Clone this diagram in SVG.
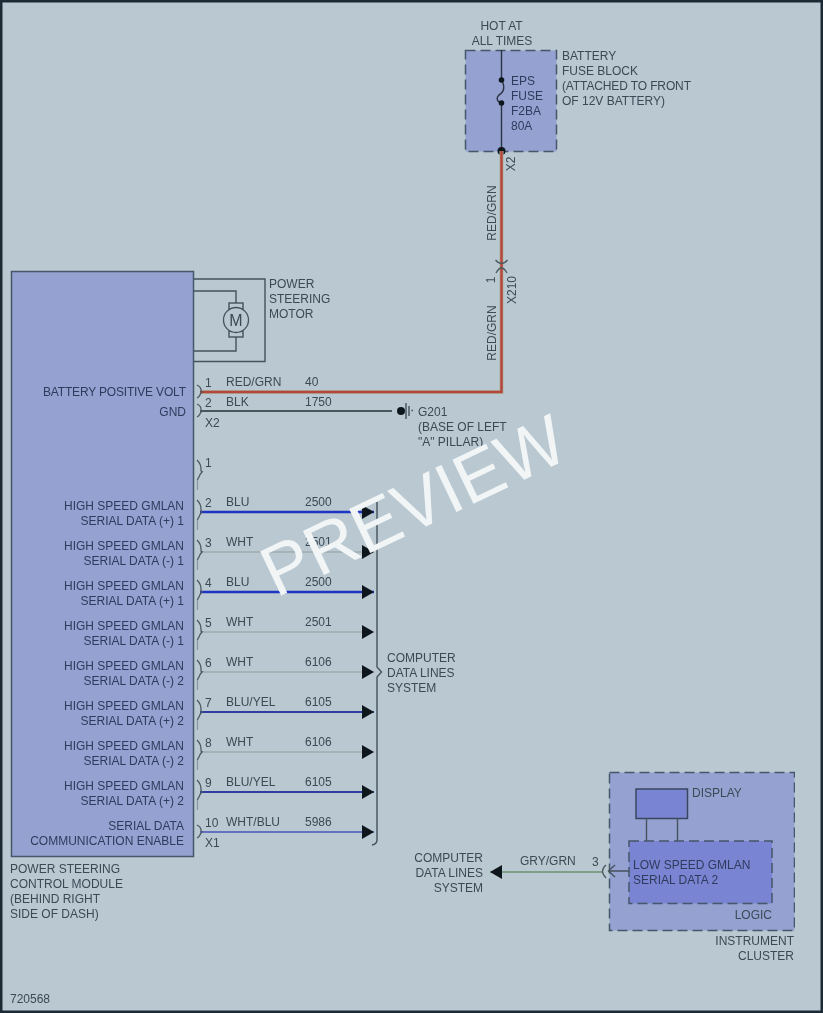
<svg xmlns="http://www.w3.org/2000/svg" width="823" height="1013" viewBox="0 0 823 1013">
<defs>
<style>
text{font-family:"Liberation Sans",Arial,sans-serif;font-size:12px;fill:#3d4954}
.m{fill:#2f3a5c}
.e{text-anchor:end}
.c{text-anchor:middle}
.box{fill:#95a2d1;stroke:#46566a;stroke-width:1.5}
.dash{stroke-dasharray:10 5}
.ln{fill:none;stroke:#46525c;stroke-width:1.4}
.pin{fill:none;stroke:#4d5963;stroke-width:1.3}
.tail{fill:none;stroke:#8b979e;stroke-width:1.3}
.w{fill:none}
</style>
<filter id="soft" x="0" y="0" width="100%" height="100%"><feGaussianBlur stdDeviation="0.45"/></filter>
<marker id="ah" markerWidth="12" markerHeight="14" refX="12" refY="7" orient="auto" markerUnits="userSpaceOnUse"><path d="M0 0L12 7L0 14Z" fill="#11181d"/></marker>
<path id="p2" class="pin" d="M-1 -7Q3 -5 3 -2Q3 0 4 0Q2 2 2 3Q1 5 -1 6"/>
<g id="p"><path class="pin" d="M-1 -12Q3 -8 3 -3Q3 0 4 0Q2 2 1 5Q0 6 -0.500 8"/><path class="tail" d="M-0.500 8V18"/></g>
</defs>
<rect x="1" y="1" width="821" height="1011" fill="#b9c8d1" stroke="#1c2a35" stroke-width="3"/>
<g filter="url(#soft)">

<g id="fuse-block">
<rect class="box dash" x="465.500" y="50.500" width="91" height="101"/>
<path class="ln" d="M501.500 50V80M501.500 103V151" style="stroke:#2b3440"/>
<path class="ln" d="M501.500 80Q505 86 503 91Q501 94 499 95Q496 98 498 101Q500 103 501.500 103" style="stroke:#2b3440"/>
<circle cx="501.500" cy="80" r="2.800" fill="#11181d"/><circle cx="501.500" cy="103" r="2.800" fill="#11181d"/><circle cx="501.500" cy="151" r="4" fill="#11181d"/>
<text x="511" y="85" class="m">EPS</text><text x="511" y="100" class="m">FUSE</text><text x="511" y="115" class="m">F2BA</text><text x="511" y="130" class="m">80A</text>
<text x="501.500" y="30" class="c">HOT AT</text><text x="502" y="45" class="c">ALL TIMES</text>
<text x="562" y="60">BATTERY</text><text x="562" y="75">FUSE BLOCK</text><text x="562" y="90" textLength="129">(ATTACHED TO FRONT</text><text x="562" y="105">OF 12V BATTERY)</text>
<text transform="translate(515,164) rotate(-90)" class="c">X2</text>
</g>

<g id="control-module">
<rect class="box" x="11.500" y="271.500" width="182" height="585"/>
<text x="43" y="396" class="m" textLength="143">BATTERY POSITIVE VOLT</text><text x="186" y="416" class="m e">GND</text>
<text x="184" y="510" class="m e">HIGH SPEED GMLAN</text><text x="184" y="525" class="m e">SERIAL DATA (+) 1</text>
<text x="184" y="550" class="m e">HIGH SPEED GMLAN</text><text x="184" y="565" class="m e">SERIAL DATA (-) 1</text>
<text x="184" y="590" class="m e">HIGH SPEED GMLAN</text><text x="184" y="605" class="m e">SERIAL DATA (+) 1</text>
<text x="184" y="630" class="m e">HIGH SPEED GMLAN</text><text x="184" y="645" class="m e">SERIAL DATA (-) 1</text>
<text x="184" y="670" class="m e">HIGH SPEED GMLAN</text><text x="184" y="685" class="m e">SERIAL DATA (-) 2</text>
<text x="184" y="710" class="m e">HIGH SPEED GMLAN</text><text x="184" y="725" class="m e">SERIAL DATA (+) 2</text>
<text x="184" y="750" class="m e">HIGH SPEED GMLAN</text><text x="184" y="765" class="m e">SERIAL DATA (-) 2</text>
<text x="184" y="790" class="m e">HIGH SPEED GMLAN</text><text x="184" y="805" class="m e">SERIAL DATA (+) 2</text>
<text x="184" y="830" class="m e">SERIAL DATA</text><text x="184" y="845" class="m e">COMMUNICATION ENABLE</text>
<text x="10" y="873">POWER STEERING</text><text x="10" y="888">CONTROL MODULE</text><text x="10" y="903">(BEHIND RIGHT</text><text x="10" y="918">SIDE OF DASH)</text>
</g>

<g id="motor">
<path class="ln" d="M194 279H265V361.500H194M194 291H236V303M236 337V351H194"/>
<rect class="ln" x="229" y="303" width="14" height="6"/><rect class="ln" x="229" y="331" width="14" height="6"/>
<circle cx="236" cy="320" r="12.500" fill="#b9c8d1" stroke="#46525c" stroke-width="1.300"/>
<text x="236" y="326" class="c" style="font-size:16px">M</text>
<text x="269" y="288">POWER</text><text x="269" y="303">STEERING</text><text x="269" y="318">MOTOR</text>
</g>

<g id="ground-g201">
<circle cx="401" cy="411" r="4" fill="#11181d"/>
<path class="ln" d="M406 403V419M409 406V416M411.500 410.500H413"/>
<text x="418" y="416">G201</text><text x="418" y="431">(BASE OF LEFT</text><text x="418" y="446">"A" PILLAR)</text>
</g>

<g id="data-lines-right">
<path class="ln" d="M377 502V667L381.500 672L377 677V840Q377 844 372 845"/>
<text x="387" y="662">COMPUTER</text><text x="387" y="677">DATA LINES</text><text x="387" y="692">SYSTEM</text>
</g>

<g id="instrument-cluster">
<rect x="609.500" y="772.500" width="185" height="158" fill="#95a2d1" stroke="#46566a" stroke-width="1.500" stroke-dasharray="10 5"/>
<rect x="636" y="789" width="51.500" height="29.500" fill="#7985d2" stroke="#39445e" stroke-width="1.500"/>
<path class="ln" d="M646.500 818V841M677.500 818V841"/>
<rect x="629" y="841" width="143" height="62.500" fill="#7985d2" stroke="#46566a" stroke-width="1.500" stroke-dasharray="10 5"/>
<path class="ln" d="M629 871H609M615 865L608.500 871L615 877"/>
<text x="692" y="797">DISPLAY</text>
<text x="633" y="869" class="m">LOW SPEED GMLAN</text><text x="633" y="884" class="m">SERIAL DATA 2</text>
<text x="772" y="919" class="e">LOGIC</text>
<text x="794" y="945" class="e">INSTRUMENT</text><text x="794" y="960" class="e">CLUSTER</text>
</g>

<g id="data-lines-left">
<text x="483" y="862" class="e">COMPUTER</text><text x="483" y="877" class="e">DATA LINES</text><text x="483" y="892" class="e">SYSTEM</text>
</g>

<g id="connectors">
<path class="w" d="M501.500 151V392H200" stroke="#a9b69f" stroke-width="4"/>
<path class="w" d="M501.500 151V392H200" stroke="#b8453a" stroke-width="2.500"/>
<path class="w" d="M200 411H392" stroke="#4b555c" stroke-width="2"/>
<path class="w" d="M200 512H374" stroke="#1f35c4" stroke-width="2.500" marker-end="url(#ah)"/>
<path class="w" d="M200 552H374" stroke="#a7b2b6" stroke-width="2" marker-end="url(#ah)"/>
<path class="w" d="M200 592H374" stroke="#1f35c4" stroke-width="2.500" marker-end="url(#ah)"/>
<path class="w" d="M200 632H374" stroke="#a7b2b6" stroke-width="2" marker-end="url(#ah)"/>
<path class="w" d="M200 672H374" stroke="#a7b2b6" stroke-width="2" marker-end="url(#ah)"/>
<path class="w" d="M200 712H374" stroke="#2e3e9f" stroke-width="2.200" marker-end="url(#ah)"/>
<path class="w" d="M200 752H374" stroke="#a7b2b6" stroke-width="2" marker-end="url(#ah)"/>
<path class="w" d="M200 792H374" stroke="#2e3e9f" stroke-width="2.200" marker-end="url(#ah)"/>
<path class="w" d="M200 832H374" stroke="#6470c4" stroke-width="2" marker-end="url(#ah)"/>
<path class="w" d="M602 872H490" stroke="#7fa088" stroke-width="2.200" marker-end="url(#ah)"/>
<path class="pin" d="M495.500 260Q501.500 267 507.500 260M496 273Q501.500 263 507 273"/>
<path class="pin" d="M606 865Q599 871 606 878"/>
<use href="#p2" x="198" y="392"/><use href="#p2" x="198" y="411"/>
<use href="#p" x="198" y="472"/><use href="#p" x="198" y="512"/><use href="#p" x="198" y="552"/><use href="#p" x="198" y="592"/><use href="#p" x="198" y="632"/><use href="#p" x="198" y="672"/><use href="#p" x="198" y="712"/><use href="#p" x="198" y="752"/><use href="#p" x="198" y="792"/><use href="#p2" x="198" y="832"/>
</g>

<g id="wire-labels">
<text x="205" y="387">1</text><text x="226" y="386">RED/GRN</text><text x="305" y="386">40</text>
<text x="205" y="407">2</text><text x="226" y="406">BLK</text><text x="305" y="406">1750</text>
<text x="205" y="427">X2</text>
<text x="205" y="467">1</text>
<text x="205" y="507">2</text><text x="226" y="506">BLU</text><text x="305" y="506">2500</text>
<text x="205" y="547">3</text><text x="226" y="546">WHT</text><text x="305" y="546">2501</text>
<text x="205" y="587">4</text><text x="226" y="586">BLU</text><text x="305" y="586">2500</text>
<text x="205" y="627">5</text><text x="226" y="626">WHT</text><text x="305" y="626">2501</text>
<text x="205" y="667">6</text><text x="226" y="666">WHT</text><text x="305" y="666">6106</text>
<text x="205" y="707">7</text><text x="226" y="706">BLU/YEL</text><text x="305" y="706">6105</text>
<text x="205" y="747">8</text><text x="226" y="746">WHT</text><text x="305" y="746">6106</text>
<text x="205" y="787">9</text><text x="226" y="786">BLU/YEL</text><text x="305" y="786">6105</text>
<text x="205" y="827">10</text><text x="226" y="826">WHT/BLU</text><text x="305" y="826">5986</text>
<text x="205" y="847">X1</text>
<text x="520" y="865">GRY/GRN</text><text x="592" y="866">3</text>
<text transform="translate(496,213) rotate(-90)" class="c">RED/GRN</text>
<text transform="translate(496,333) rotate(-90)" class="c">RED/GRN</text>
<text transform="translate(495,280) rotate(-90)" class="c">1</text>
<text transform="translate(516,290) rotate(-90)" class="c">X210</text>
</g>

<text x="10" y="1003">720568</text>
<text transform="translate(276,598) rotate(-25.500)" style="font-size:71px;fill:#f2f5f6">PREVIEW</text>
</g>
</svg>
